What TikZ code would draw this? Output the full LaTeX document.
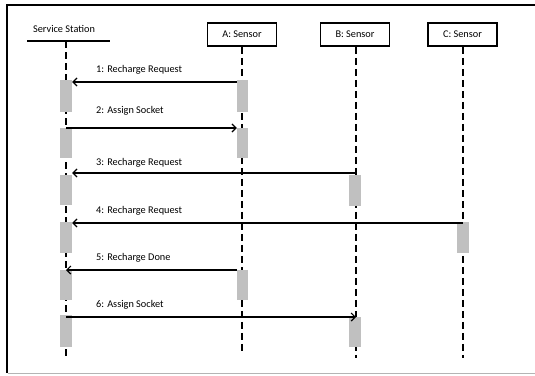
\documentclass[tikz,border=0pt]{standalone}
\usepackage{fontspec}
\setmainfont{Carlito}
\usetikzlibrary{arrows.meta}
\definecolor{actgray}{HTML}{C0C0C0}
\definecolor{framegray}{HTML}{B4B4B4}
\begin{document}
\begin{tikzpicture}[x=1pt,y=-1pt,
  lbl/.style={font=\fontsize{10.3}{12}\selectfont, inner sep=0pt, anchor=west},
  obj/.style={draw, line width=1.6pt, minimum width=69pt, minimum height=23pt, inner sep=0pt, font=\fontsize{10.3}{12}\selectfont},
  life/.style={line width=1.8pt, dash pattern=on 7pt off 4pt},
  act/.style={fill=actgray, draw=none, minimum width=12pt, inner sep=0pt, anchor=north},
  msg/.style={line width=1.2pt, -{Straight Barb[length=4pt,width=8pt,line width=1.2pt]}}]
\useasboundingbox (0,0) rectangle (535,375);
% frame
\draw[line width=2pt] (535,4.5) -- (6.5,4.5) -- (6.5,373);
\draw[framegray, line width=1pt] (7.5,373) -- (535,373);

% heads
\node[font=\fontsize{10.3}{12}\selectfont, inner sep=0pt] (ss) at (64,29) {Service Station};
\coordinate (ssl) at (27,41);
\coordinate (ssr) at (110,41);
\draw[line width=1.2pt] (ssl) -- (ssr);
\node[obj] (A) at (242,34.5) {A: Sensor};
\node[obj] (B) at (355,34.5) {B: Sensor};
\node[obj] (C) at (462.5,34.5) {C: Sensor};

% lifeline ends
\coordinate (sstop) at (66,41);
\coordinate (ssend) at (66,358);
\coordinate (aend) at (242,352);
\coordinate (bend) at (356,358);
\coordinate (cend) at (463,358);
\draw[life] (sstop) -- (ssend);
\draw[life] (A.south) -- (aend);
\draw[life] ([xshift=1pt]B.south) -- (bend);
\draw[life] ([xshift=0.5pt]C.south) -- (cend);

% activation boxes
\node[act, minimum height=32pt] (s1) at (66,80) {};
\node[act, minimum height=30pt] (s2) at (66,128) {};
\node[act, minimum height=30pt] (s3) at (66,175) {};
\node[act, minimum height=31pt] (s4) at (66,222) {};
\node[act, minimum height=30pt] (s5) at (66,270) {};
\node[act, minimum height=32pt] (s6) at (66,315) {};
\node[act, minimum height=32pt, minimum width=11pt] (a1) at (242.5,80) {};
\node[act, minimum height=30pt, minimum width=11pt] (a2) at (242.5,128) {};
\node[act, minimum height=30pt, minimum width=11pt] (a3) at (242.5,270) {};
\node[act, minimum height=31pt] (b1) at (355,175) {};
\node[act, minimum height=30pt] (b2) at (355,317) {};
\node[act, minimum height=31pt] (c1) at (463,222) {};

% messages
\draw[msg] ([yshift=-2pt]a1.north west) -- ([yshift=-2pt]s1.north east);
\node[lbl] (m1) at (96,70) {1: Recharge Request};
\draw[msg] (s2.north) -- (a2.north west);
\node[lbl] (m2) at (96,111) {2: Assign Socket};
\draw[msg] ([yshift=2pt,xshift=1pt]b1.north) -- ([yshift=2pt]s3.north east);
\node[lbl] (m3) at (96,163) {3: Recharge Request};
\draw[msg] ([yshift=-1pt]c1.north) -- ([yshift=-1pt]s4.north east);
\node[lbl] (m4) at (96,211) {4: Recharge Request};
\draw[msg] (a3.north west) -- (s5.north);
\node[lbl] (m5) at (96,258) {5: Recharge Done};
\draw[msg] ([yshift=-2pt]s6.north) -- ([xshift=1pt]b2.north);
\node[lbl] (m6) at (96,305) {6: Assign Socket};
\end{tikzpicture}
\end{document}
